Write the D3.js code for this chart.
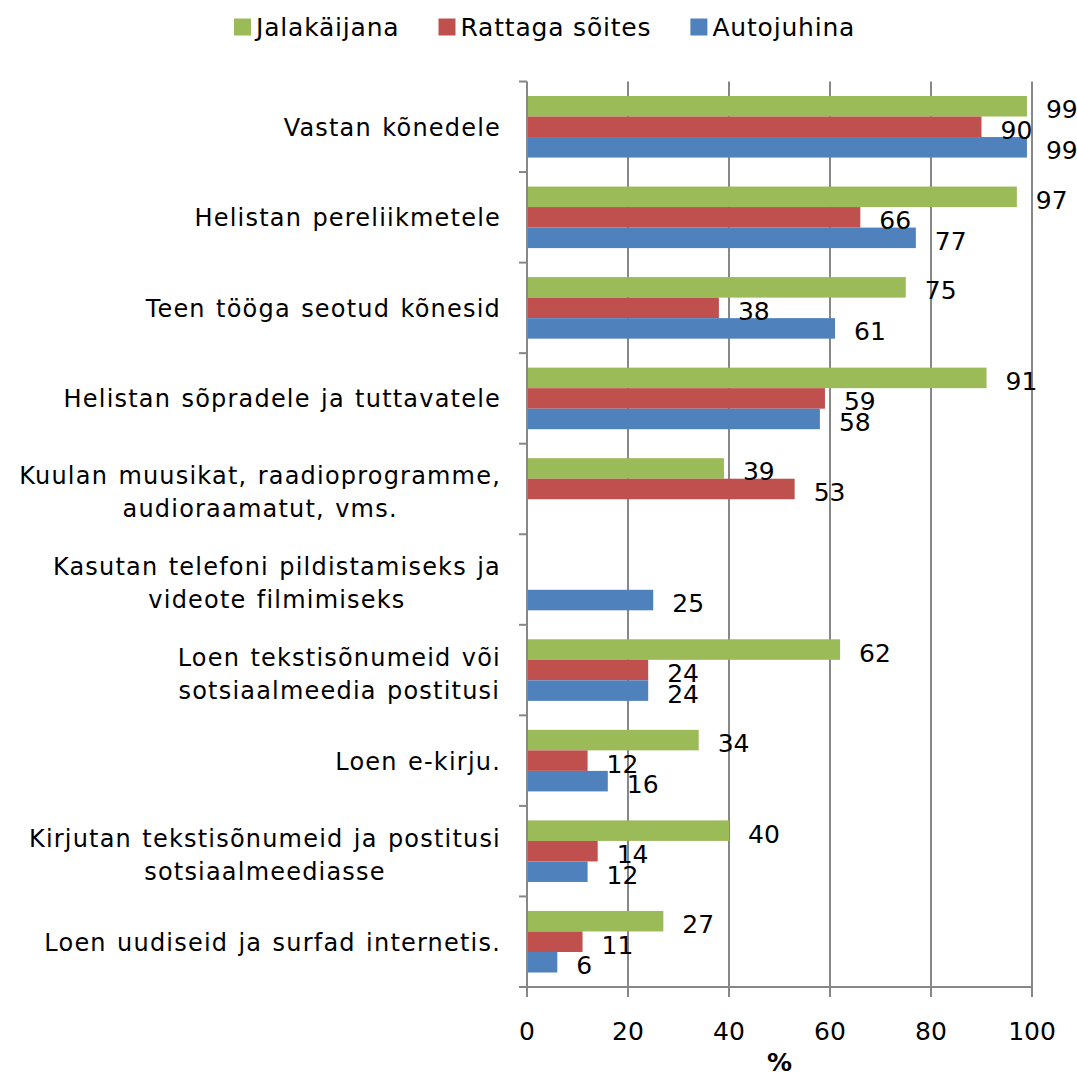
<!DOCTYPE html>
<html>
<head>
<meta charset="utf-8">
<script src="https://cdn.jsdelivr.net/npm/d3@7"></script>
<style>
  html, body { margin: 0; padding: 0; background: #fff; }
  svg { display: block; }
  text { font-family: "DejaVu Sans", Verdana, sans-serif; fill: #000; }
</style>
</head>
<body>
<svg id="chart" width="1077" height="1072"></svg>
<script>
const categories = [
  "Vastan kõnedele",
  "Helistan pereliikmetele",
  "Teen tööga seotud kõnesid",
  "Helistan sõpradele ja tuttavatele",
  "Kuulan muusikat, raadioprogramme,\naudioraamatut, vms.",
  "Kasutan telefoni pildistamiseks ja\nvideote filmimiseks",
  "Loen tekstisõnumeid või\nsotsiaalmeedia postitusi",
  "Loen e-kirju.",
  "Kirjutan tekstisõnumeid ja postitusi\nsotsiaalmeediasse",
  "Loen uudiseid ja surfad internetis."
];
const seriesNames = ["Jalakäijana", "Rattaga sõites", "Autojuhina"];
const seriesColors = ["#9BBB59", "#C0504D", "#4F81BD"];
const jalakaijana = [99, 97, 75, 91, 39, null, 62, 34, 40, 27];
const rattagaSoites = [90, 66, 38, 59, 53, null, 24, 12, 14, 11];
const autojuhina = [99, 77, 61, 58, null, 25, 24, 16, 12, 6];
const xTicks = [0, 20, 40, 60, 80, 100];
const xAxisTitle = "%";

const seriesValues = [jalakaijana, rattagaSoites, autojuhina];

const svg = d3.select("#chart");
const x = d3.scaleLinear().domain([0, 100]).range([527, 1032]);
const y = d3.scaleBand().domain(d3.range(categories.length)).range([81.5, 987]).padding(0);
const bw = y.bandwidth();
const ys = d3.scaleBand().domain(d3.range(seriesNames.length)).range([0.16 * bw, 0.84 * bw]).padding(0);

const gridColor = "#878787";

// vertical gridlines (with tick extension below axis)
svg.append("g").selectAll("line").data(xTicks).join("line")
  .attr("x1", d => x(d)).attr("x2", d => x(d))
  .attr("y1", y.range()[0]).attr("y2", y.range()[1] + 10)
  .attr("stroke", gridColor).attr("stroke-width", 2);

// bottom axis line
svg.append("line")
  .attr("x1", x(0) - 8).attr("x2", x(100))
  .attr("y1", y.range()[1]).attr("y2", y.range()[1])
  .attr("stroke", gridColor).attr("stroke-width", 2);

// left ticks at category boundaries
const boundaries = d3.range(categories.length + 1).map(i => y.range()[0] + i * bw);
svg.append("g").selectAll("line").data(boundaries).join("line")
  .attr("x1", x(0) - 8).attr("x2", x(0))
  .attr("y1", d => d).attr("y2", d => d)
  .attr("stroke", gridColor).attr("stroke-width", 2);

// bars
const barData = [];
categories.forEach((c, i) => {
  seriesValues.forEach((vals, s) => {
    if (vals[i] != null) barData.push({ i, s, v: vals[i] });
  });
});

svg.append("g").selectAll("rect").data(barData).join("rect")
  .attr("x", x(0) + 1)
  .attr("y", d => y(d.i) + ys(d.s))
  .attr("width", d => x(d.v) - x(0) - 1)
  .attr("height", ys.bandwidth())
  .attr("fill", d => seriesColors[d.s]);

// value labels
svg.append("g").selectAll("text").data(barData).join("text")
  .attr("x", d => x(d.v) + 19)
  .attr("y", d => y(d.i) + ys(d.s) + ys.bandwidth() / 2 + 12)
  .attr("font-size", 25)
  .text(d => d.v);

// category labels
const catG = svg.append("g");
categories.forEach((c, i) => {
  const lines = c.split("\n");
  const cy = y(i) + bw / 2 + (lines.length > 1 ? 3 : 0);
  const g = catG.append("g");
  const lh = 33;
  const texts = lines.map((ln, k) => g.append("text")
    .attr("y", cy + (k - (lines.length - 1) / 2) * lh + 9)
    .attr("font-size", 24)
    .attr("letter-spacing", 1.2)
    .attr("word-spacing", 1.5)
    .attr("text-anchor", "middle")
    .text(ln));
  const maxW = d3.max(texts, t => t.node().getComputedTextLength());
  texts.forEach(t => t.attr("x", 501 - maxW / 2));
});

// x tick labels
svg.append("g").selectAll("text").data(xTicks).join("text")
  .attr("x", d => x(d))
  .attr("y", 1040)
  .attr("text-anchor", "middle")
  .attr("font-size", 25)
  .text(d => d);

// x axis title
svg.append("text")
  .attr("x", (x(0) + x(100)) / 2)
  .attr("y", 1071)
  .attr("text-anchor", "middle")
  .attr("font-size", 25)
  .attr("font-weight", "bold")
  .text(xAxisTitle);

// legend
const leg = svg.append("g");
let lx = 234;
seriesNames.forEach((name, s) => {
  leg.append("rect").attr("x", lx).attr("y", 18.5).attr("width", 17).attr("height", 17)
    .attr("fill", seriesColors[s]);
  const t = leg.append("text").attr("x", lx + 22).attr("y", 35.5)
    .attr("font-size", 25).attr("letter-spacing", 0.8).text(name);
  lx = lx + 22 + t.node().getComputedTextLength() + 39;
});
</script>
</body>
</html>
